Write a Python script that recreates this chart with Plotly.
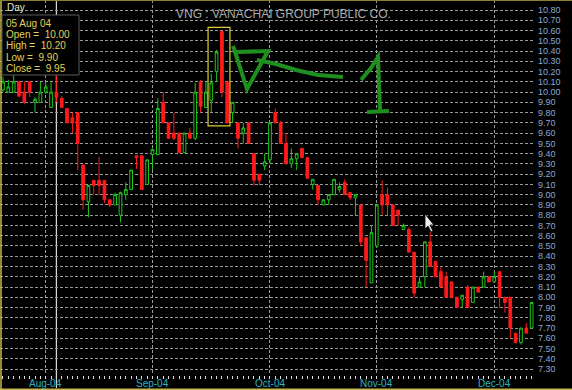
import plotly.graph_objects as go

# ---------------- data ----------------
opens = [10.02, 10.00, 10.00, 10.10, 10.00, 10.10, 9.90, 9.90, 10.00, 9.85,
         10.00, 9.94, 9.84, 9.75, 9.80, 9.29, 8.93, 9.14, 9.14, 9.14,
         8.95, 8.90, 8.80, 9.00, 9.05, 9.38, 9.38, 9.10, 9.39, 9.39,
         9.90, 9.70, 9.60, 9.60, 9.41, 9.60, 9.55, 10.10, 9.85, 9.92,
         10.20, 10.59, 10.10, 9.80, 9.70, 9.60, 9.70, 9.40, 9.20, 9.28,
         9.34, 9.80, 9.70, 9.50, 9.30, 9.35, 9.45, 9.36, 9.10, 9.09,
         8.90, 8.95, 9.00, 9.05, 9.12, 9.02, 8.97, 8.90, 8.58, 8.14,
         8.50, 9.00, 9.00, 8.90, 8.85, 8.66, 8.66, 8.44, 8.10, 8.20,
         8.54, 8.35, 8.25, 8.20, 8.15, 8.00, 7.98, 8.10, 7.95, 8.10,
         8.10, 8.20, 8.15, 8.25, 8.00, 8.00, 7.65, 7.56, 7.70, 7.70]
highs = [10.15, 10.12, 10.18, 10.10, 10.10, 10.10, 9.95, 10.10, 10.10, 10.10,
         10.20, 9.96, 9.84, 9.80, 9.80, 9.29, 9.09, 9.14, 9.37, 9.14,
         8.95, 9.02, 9.03, 9.12, 9.24, 9.38, 9.38, 9.34, 9.45, 9.94,
         10.00, 9.70, 9.80, 9.60, 9.60, 9.65, 10.09, 10.12, 10.10, 10.18,
         10.41, 10.60, 10.10, 9.90, 9.70, 9.70, 9.70, 9.40, 9.20, 9.40,
         9.70, 9.84, 9.72, 9.60, 9.45, 9.40, 9.46, 9.36, 9.15, 9.09,
         8.95, 9.00, 9.15, 9.12, 9.15, 9.02, 9.00, 8.90, 8.58, 8.70,
         8.90, 9.14, 9.07, 8.90, 8.85, 8.72, 8.68, 8.44, 8.20, 8.54,
         8.64, 8.35, 8.30, 8.25, 8.15, 8.00, 8.02, 8.12, 8.10, 8.10,
         8.25, 8.20, 8.25, 8.25, 8.00, 8.00, 7.65, 7.70, 7.75, 7.95]
lows = [10.00, 10.00, 10.00, 9.95, 9.88, 9.95, 9.80, 9.90, 9.98, 9.85,
        9.90, 9.85, 9.70, 9.60, 9.24, 8.85, 8.78, 9.00, 9.00, 8.92,
        8.88, 8.90, 8.73, 8.95, 9.05, 9.25, 9.05, 9.10, 9.24, 9.39,
        9.70, 9.55, 9.53, 9.41, 9.41, 9.55, 9.53, 9.80, 9.85, 9.80,
        10.10, 9.95, 9.70, 9.70, 9.45, 9.50, 9.50, 9.09, 9.09, 9.24,
        9.30, 9.70, 9.50, 9.30, 9.26, 9.24, 9.36, 9.16, 9.05, 8.90,
        8.90, 8.90, 9.00, 9.02, 9.00, 8.95, 8.80, 8.50, 8.10, 8.14,
        8.48, 8.80, 8.80, 8.70, 8.70, 8.66, 8.44, 8.00, 8.10, 8.10,
        8.30, 8.20, 8.10, 8.00, 8.00, 7.90, 7.90, 7.90, 7.95, 8.05,
        8.10, 8.15, 8.15, 7.90, 7.85, 7.60, 7.55, 7.54, 7.65, 7.70]
closes = [10.10, 10.05, 10.10, 9.96, 9.90, 10.00, 9.93, 10.00, 10.05, 10.00,
          9.95, 9.85, 9.70, 9.70, 9.50, 8.95, 9.09, 9.09, 9.09, 8.95,
          8.90, 9.00, 9.02, 9.05, 9.24, 9.36, 9.05, 9.34, 9.44, 9.84,
          9.70, 9.55, 9.55, 9.41, 9.60, 9.55, 10.00, 9.86, 10.00, 10.09,
          10.39, 10.00, 9.70, 9.90, 9.55, 9.65, 9.50, 9.14, 9.14, 9.32,
          9.70, 9.70, 9.50, 9.30, 9.35, 9.40, 9.36, 9.16, 9.15, 8.95,
          8.95, 9.00, 9.15, 9.08, 9.00, 8.97, 9.00, 8.54, 8.36, 8.63,
          8.90, 8.90, 8.90, 8.70, 8.80, 8.70, 8.44, 8.04, 8.15, 8.54,
          8.30, 8.20, 8.10, 8.00, 8.00, 7.90, 8.02, 7.90, 8.10, 8.05,
          8.20, 8.15, 8.20, 8.00, 7.95, 7.70, 7.56, 7.70, 7.65, 7.95]
bar_index = list(range(len(opens)))

month_start_index = [8, 28, 50, 70, 92]
month_labels = ["Aug-04", "Sep-04", "Oct-04", "Nov-04", "Dec-04"]

cursor_index = 10
cursor_info = ["05 Aug 04", "Open =  10.00", "High =  10.20", "Low =  9.90", "Close =  9.95"]
highlight_first, highlight_last = 39, 42

y_ticks = [round(7.3 + 0.1 * k, 2) for k in range(36)]

title_text = "VNG : VANACHAI GROUP PUBLIC CO."

# ---------------- geometry helpers ----------------
W, H = 572, 390
ML, MR, MT, MB = 0, 38, 0, 15
PW, PH = W - ML - MR, H - MT - MB


def px(xp):
    return (xp - ML) / PW


def py(yp):
    return 1 - (yp - MT) / PH


fig = go.Figure()
fig.add_trace(go.Candlestick(
    x=bar_index, open=opens, high=highs, low=lows, close=closes,
    increasing=dict(line=dict(color="#1ec81e", width=1), fillcolor="#000000"),
    decreasing=dict(line=dict(color="#ff1a1a", width=1), fillcolor="#ff1a1a"),
    whiskerwidth=0, hoverinfo="skip", showlegend=False,
))

shapes = []
# cursor line
shapes.append(dict(type="line", xref="x", yref="paper", x0=cursor_index, x1=cursor_index,
                   y0=py(388), y1=1, line=dict(color="#d8d8d8", width=1.2), layer="below"))
# highlight box
hi = max(highs[highlight_first:highlight_last + 1])
lo = min(lows[highlight_first:highlight_last + 1])
shapes.append(dict(type="rect", xref="x", yref="y", x0=highlight_first - 0.6, x1=highlight_last + 0.5,
                   y0=lo - 0.03, y1=hi + 0.03, line=dict(color="#d8d030", width=1.2)))
# frame lines (yellowish border)
shapes.append(dict(type="line", xref="paper", yref="paper", x0=px(1), x1=px(1), y0=py(390), y1=py(0),
                   line=dict(color="#c8b848", width=1.5)))
shapes.append(dict(type="line", xref="paper", yref="paper", x0=px(0), x1=px(572), y0=py(389.2), y1=py(389.2),
                   line=dict(color="#c8b848", width=1.5)))
shapes.append(dict(type="line", xref="paper", yref="paper", x0=px(0), x1=px(572), y0=py(0.5), y1=py(0.5),
                   line=dict(color="#8a8030", width=1)))
# tooltip box
shapes.append(dict(type="rect", xref="paper", yref="paper", x0=px(2), x1=px(79), y0=py(75), y1=py(15),
                   line=dict(color="#5a5a5a", width=1), fillcolor="#000000"))


def path_from(points):
    return "M " + " L ".join(f"{px(a):.5f},{py(b):.5f}" for a, b in points)


green_pen = dict(color="#1f8f1f", width=4)
scribbles = [
    [(233, 46), (236, 55), (247, 89), (252, 80), (268, 51), (236, 52)],
    [(257, 60), (276, 64), (296, 70), (318, 75), (343, 77)],
    [(361, 80), (371, 68), (378, 57), (379, 85), (380, 110)],
    [(367, 112), (389, 111)],
]
for pts in scribbles:
    shapes.append(dict(type="path", xref="paper", yref="paper", path=path_from(pts),
                       line=green_pen))
# mouse cursor arrow
arrow = [(425, 214), (425, 229), (428, 226), (431, 232), (433, 231), (430, 225), (434, 225), (425, 214)]
shapes.append(dict(type="path", xref="paper", yref="paper", path=path_from(arrow) + " Z",
                   line=dict(color="#000000", width=0.8), fillcolor="#f0f0f0"))

annotations = []
annotations.append(dict(xref="paper", yref="paper", x=px(5), y=py(7), text="Day", showarrow=False,
                        xanchor="left", yanchor="middle",
                        font=dict(family="Liberation Sans, Arial", size=10, color="#e8e4c8")))
line_y = [23, 34, 45.5, 57, 68.5]
for txt, yy in zip(cursor_info, line_y):
    annotations.append(dict(xref="paper", yref="paper", x=px(4), y=py(yy), text=txt, showarrow=False,
                            xanchor="left", yanchor="middle",
                            font=dict(family="Liberation Sans, Arial", size=10, color="#e0d45a")))
annotations.append(dict(xref="paper", yref="paper", x=px(283), y=py(14), text=title_text, showarrow=False,
                        xanchor="center", yanchor="middle",
                        font=dict(family="Liberation Sans, Arial", size=12, color="#a8a8a8")))
# month labels placed just under the tick row
for idx, lab in zip(month_start_index, month_labels):
    annotations.append(dict(xref="x", yref="paper", x=idx, y=py(383), text=lab, showarrow=False,
                            xanchor="center", yanchor="middle",
                            font=dict(family="Liberation Sans, Arial", size=10, color="#28b4c4")))

fig.update_layout(
    width=W, height=H, margin=dict(l=ML, r=MR, t=MT, b=MB),
    paper_bgcolor="#000000", plot_bgcolor="#000000",
    shapes=shapes, annotations=annotations, showlegend=False,
    boxgap=0.28,
)
fig.update_xaxes(
    range=[-0.56, 99.44], rangeslider=dict(visible=False),
    tickmode="array", tickvals=month_start_index, ticktext=["" for _ in month_labels],
    showgrid=True, gridcolor="#9a9a9a", griddash="3px,2px", gridwidth=1,
    ticks="outside", ticklen=3, tickcolor="#e0e0e0",
    minor=dict(tickmode="array", tickvals=bar_index, ticks="outside", ticklen=3, tickcolor="#e0e0e0",
               showgrid=False),
    showline=False, zeroline=False, fixedrange=True,
)
fig.update_yaxes(
    range=[10.80 - (375 - 10) / 102.6, 10.80 + 10 / 102.6],
    side="right", tickmode="array", tickvals=y_ticks, ticktext=[f"{v:.2f}" for v in y_ticks],
    showgrid=True, gridcolor="#9a9a9a", griddash="3px,2px", gridwidth=1,
    ticks="", tickfont=dict(family="Liberation Sans, Arial", size=9, color="#8caad0"),
    showline=False, zeroline=False, fixedrange=True, ticklabelstandoff=3,
)

fig.write_html("out.html")
